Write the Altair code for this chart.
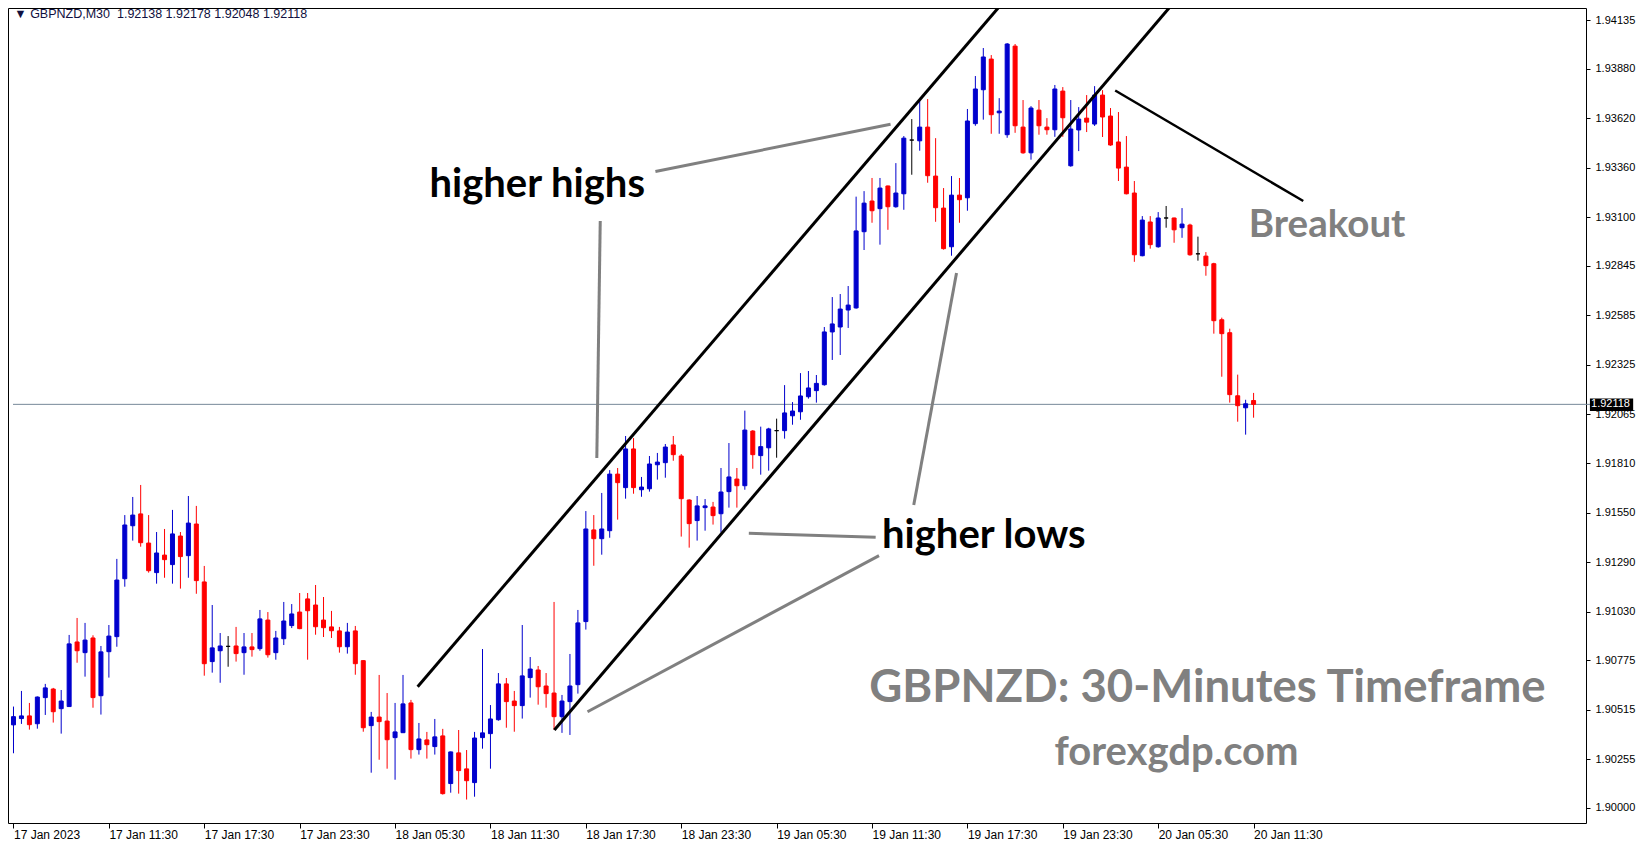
import json
import altair as alt
import pandas as pd

# ---------------- candle data (30-minute bars, 17 Jan 05:30 -> 20 Jan 11:30) -------------
opens = [1.90436, 1.90469, 1.90483, 1.90442, 1.90579, 1.90624, 1.90521, 1.90532, 1.90871, 1.90815,
         1.90892, 1.90589, 1.90820, 1.90899, 1.91203, 1.91481, 1.91543, 1.91390, 1.91235, 1.91327,
         1.91277, 1.91427, 1.91324, 1.91490, 1.91186, 1.90768, 1.90825, 1.90848, 1.90850, 1.90815,
         1.90845, 1.90836, 1.90986, 1.90815, 1.90888, 1.90957, 1.91028, 1.91097, 1.91065, 1.90986,
         1.90950, 1.90929, 1.90846, 1.90929, 1.90773, 1.90432, 1.90477, 1.90456, 1.90369, 1.90395,
         1.90551, 1.90306, 1.90357, 1.90322, 1.90378, 1.90128, 1.90289, 1.90205, 1.90133, 1.90369,
         1.90390, 1.90463, 1.90651, 1.90561, 1.90537, 1.90684, 1.90724, 1.90640, 1.90603, 1.90479,
         1.90558, 1.90647, 1.90978, 1.91459, 1.91413, 1.91455, 1.91752, 1.91681, 1.91884, 1.91670,
         1.91675, 1.91801, 1.91812, 1.91905, 1.91847, 1.91616, 1.91508, 1.91576, 1.91579, 1.91544,
         1.91660, 1.91726, 1.91691, 1.91978, 1.91849, 1.91890, 1.91980, 1.91980, 1.92058, 1.92079,
         1.92158, 1.92190, 1.92221, 1.92498, 1.92524, 1.92613, 1.92624, 1.93024, 1.93185, 1.93145,
         1.93264, 1.93155, 1.93223, 1.93505, 1.93501, 1.93573, 1.93316, 1.93148, 1.92945, 1.93216,
         1.93202, 1.93591, 1.93769, 1.93930, 1.93648, 1.93533, 1.93998, 1.93573, 1.93438, 1.93662,
         1.93573, 1.93559, 1.93762, 1.93370, 1.93558, 1.93620, 1.93589, 1.93741, 1.93631, 1.93495,
         1.93363, 1.93227, 1.92898, 1.93075, 1.92945, 1.93096, 1.93096, 1.93045, 1.93059, 1.92908,
         1.92896, 1.92856, 1.92562, 1.92494, 1.92163, 1.92100, 1.92138]
highs = [1.90532, 1.90614, 1.90551, 1.90585, 1.90651, 1.90630, 1.90619, 1.90908, 1.90997, 1.90971,
         1.90906, 1.90850, 1.90960, 1.91307, 1.91537, 1.91632, 1.91695, 1.91537, 1.91448, 1.91464,
         1.91564, 1.91448, 1.91637, 1.91585, 1.91270, 1.91065, 1.90918, 1.90902, 1.90950, 1.90918,
         1.90918, 1.91039, 1.91028, 1.90929, 1.91081, 1.91070, 1.91128, 1.91128, 1.91170, 1.91107,
         1.91034, 1.90950, 1.90971, 1.90955, 1.90775, 1.90504, 1.90698, 1.90603, 1.90551, 1.90698,
         1.90567, 1.90446, 1.90399, 1.90467, 1.90415, 1.90296, 1.90409, 1.90304, 1.90399, 1.90834,
         1.90540, 1.90708, 1.90682, 1.90614, 1.90960, 1.90792, 1.90745, 1.90708, 1.91081, 1.90593,
         1.90808, 1.91039, 1.91558, 1.91537, 1.91653, 1.91773, 1.91784, 1.91952, 1.91941, 1.91737,
         1.91847, 1.91863, 1.91910, 1.91952, 1.91857, 1.91620, 1.91637, 1.91621, 1.91606, 1.91784,
         1.91915, 1.91784, 1.92085, 1.91983, 1.92001, 1.91995, 1.92043, 1.92219, 1.92130, 1.92282,
         1.92293, 1.92272, 1.92524, 1.92681, 1.92697, 1.92739, 1.93208, 1.93237, 1.93306, 1.93306,
         1.93266, 1.93384, 1.93526, 1.93615, 1.93715, 1.93720, 1.93515, 1.93253, 1.93316, 1.93306,
         1.93668, 1.93841, 1.93988, 1.93951, 1.93725, 1.94014, 1.94009, 1.93715, 1.93683, 1.93715,
         1.93620, 1.93794, 1.93783, 1.93715, 1.93678, 1.93741, 1.93788, 1.93767, 1.93673, 1.93652,
         1.93526, 1.93290, 1.93106, 1.93106, 1.93127, 1.93159, 1.93098, 1.93148, 1.93066, 1.92998,
         1.92917, 1.92861, 1.92573, 1.92515, 1.92274, 1.92142, 1.92178]
lows = [1.90287, 1.90441, 1.90411, 1.90416, 1.90488, 1.90448, 1.90390, 1.90530, 1.90762, 1.90689,
        1.90526, 1.90490, 1.90684, 1.90846, 1.91161, 1.91403, 1.91371, 1.91235, 1.91177, 1.91208,
        1.91177, 1.91151, 1.91208, 1.91124, 1.90694, 1.90710, 1.90657, 1.90741, 1.90768, 1.90699,
        1.90794, 1.90825, 1.90789, 1.90778, 1.90855, 1.90944, 1.90938, 1.90778, 1.90909, 1.90897,
        1.90892, 1.90815, 1.90810, 1.90699, 1.90400, 1.90185, 1.90253, 1.90206, 1.90148, 1.90393,
        1.90259, 1.90280, 1.90259, 1.90280, 1.90070, 1.90080, 1.90075, 1.90044, 1.90059, 1.90311,
        1.90206, 1.90458, 1.90421, 1.90400, 1.90469, 1.90579, 1.90542, 1.90526, 1.90409, 1.90394,
        1.90383, 1.90600, 1.90936, 1.91271, 1.91329, 1.91418, 1.91513, 1.91623, 1.91649, 1.91633,
        1.91660, 1.91723, 1.91733, 1.91822, 1.91424, 1.91366, 1.91403, 1.91455, 1.91487, 1.91445,
        1.91576, 1.91576, 1.91670, 1.91780, 1.91749, 1.91770, 1.91838, 1.91938, 1.92011, 1.92037,
        1.92148, 1.92127, 1.92216, 1.92351, 1.92377, 1.92519, 1.92620, 1.92928, 1.93071, 1.92956,
        1.93034, 1.93150, 1.93139, 1.93323, 1.93449, 1.93281, 1.93076, 1.92930, 1.92898, 1.93071,
        1.93134, 1.93580, 1.93612, 1.93538, 1.93538, 1.93517, 1.93543, 1.93433, 1.93402, 1.93533,
        1.93533, 1.93522, 1.93522, 1.93365, 1.93447, 1.93547, 1.93579, 1.93521, 1.93475, 1.93290,
        1.93220, 1.92866, 1.92895, 1.92935, 1.92940, 1.93045, 1.92966, 1.92992, 1.92898, 1.92872,
        1.92793, 1.92489, 1.92263, 1.92127, 1.92027, 1.91959, 1.92048]
closes = [1.90479, 1.90483, 1.90437, 1.90582, 1.90630, 1.90505, 1.90561, 1.90861, 1.90825, 1.90881,
          1.90579, 1.90819, 1.90902, 1.91196, 1.91485, 1.91537, 1.91392, 1.91245, 1.91338, 1.91303,
          1.91438, 1.91319, 1.91495, 1.91193, 1.90757, 1.90840, 1.90850, 1.90848, 1.90810, 1.90845,
          1.90831, 1.90992, 1.90804, 1.90892, 1.90981, 1.91018, 1.90941, 1.91035, 1.90951, 1.90946,
          1.90930, 1.90846, 1.90923, 1.90757, 1.90421, 1.90477, 1.90453, 1.90358, 1.90399, 1.90546,
          1.90306, 1.90362, 1.90332, 1.90373, 1.90075, 1.90294, 1.90196, 1.90143, 1.90367, 1.90394,
          1.90467, 1.90651, 1.90558, 1.90537, 1.90693, 1.90729, 1.90636, 1.90600, 1.90479, 1.90561,
          1.90640, 1.90971, 1.91464, 1.91413, 1.91464, 1.91752, 1.91707, 1.91884, 1.91681, 1.91684,
          1.91805, 1.91815, 1.91894, 1.91854, 1.91623, 1.91492, 1.91585, 1.91585, 1.91534, 1.91658,
          1.91737, 1.91691, 1.91983, 1.91854, 1.91896, 1.91989, 1.91980, 1.92073, 1.92083, 1.92162,
          1.92204, 1.92228, 1.92498, 1.92540, 1.92618, 1.92639, 1.93028, 1.93174, 1.93134, 1.93253,
          1.93155, 1.93227, 1.93515, 1.93505, 1.93573, 1.93318, 1.93150, 1.92935, 1.93216, 1.93192,
          1.93605, 1.93773, 1.93941, 1.93638, 1.93657, 1.94009, 1.93580, 1.93438, 1.93673, 1.93580,
          1.93559, 1.93773, 1.93622, 1.93563, 1.93615, 1.93599, 1.93741, 1.93626, 1.93479, 1.93358,
          1.93223, 1.92903, 1.93085, 1.92956, 1.93096, 1.93096, 1.93034, 1.93064, 1.92903, 1.92908,
          1.92846, 1.92557, 1.92489, 1.92169, 1.92111, 1.92121, 1.92118]

# ---------------- axes ----------------
price_ticks = [1.90000, 1.90255, 1.90515, 1.90775, 1.91030, 1.91290, 1.91550, 1.91810, 1.92065,
               1.92325, 1.92585, 1.92845, 1.93100, 1.93360, 1.93620, 1.93880, 1.94135]
time_tick_index = list(range(0, 157, 12))
time_tick_labels = ["17 Jan 2023", "17 Jan 11:30", "17 Jan 17:30", "17 Jan 23:30", "18 Jan 05:30",
                    "18 Jan 11:30", "18 Jan 17:30", "18 Jan 23:30", "19 Jan 05:30", "19 Jan 11:30",
                    "19 Jan 17:30", "19 Jan 23:30", "20 Jan 05:30", "20 Jan 11:30"]
last_price = 1.92118
header_text = "\u25BC GBPNZD,M30\u00a0\u00a01.92138 1.92178 1.92048 1.92118"

# ---------------- annotations (bar index, price) ----------------
channel_x1 = [50.84, 68.04]
channel_p1 = [1.90636, 1.90409]
channel_x2 = [124.4, 145.9]
channel_p2 = [1.94224, 1.94224]

breakout_x1 = [138.59]
breakout_p1 = [1.93765]
breakout_x2 = [162.25]
breakout_p2 = [1.93185]

pointer_x1 = [80.75, 73.81, 113.25, 92.5, 108.88]
pointer_p1 = [1.93340, 1.93080, 1.91590, 1.91441, 1.91324]
pointer_x2 = [110.33, 73.38, 118.63, 108.46, 72.21]
pointer_p2 = [1.93588, 1.91836, 1.92807, 1.91420, 1.90505]

black_text = ["higher highs", "higher lows"]
black_text_x = [65.88, 122.06]
black_text_p = [1.93206, 1.91364]

X_DOMAIN = [-0.0625, 197.1875]
Y_DOMAIN = [1.89921, 1.94198]

df = pd.DataFrame({"i": range(len(opens)), "o": opens, "h": highs, "l": lows, "c": closes})
df["col"] = ["#0000CD" if c > o else ("#FF0000" if c < o else "#000000")
             for o, c in zip(df["o"], df["c"])]

xs = alt.Scale(domain=X_DOMAIN, nice=False, zero=False)
ys = alt.Scale(domain=Y_DOMAIN, nice=False, zero=False)

label_expr = json.dumps(time_tick_labels) + "[round(datum.value/12)]"

x_axis = alt.Axis(values=time_tick_index, labelExpr=label_expr, title=None, grid=False,
                  domain=False, tickSize=5, tickColor="black", labelAlign="left",
                  labelBaseline="top", labelPadding=1, labelFlush=False,
                  labelOverlap=False, labelFont="Liberation Sans", labelFontSize=12,
                  labelColor="black")
y_axis = alt.Axis(values=price_ticks, format=".5f", orient="right", title=None, grid=False,
                  domain=False, tickSize=4, tickColor="black", labelAlign="left",
                  labelBaseline="middle", labelPadding=5, labelFlush=False, labelOverlap=False,
                  labelFont="Liberation Sans", labelFontSize=11, labelColor="black")

base = alt.Chart(df)

wicks = base.mark_rule(strokeWidth=1).encode(
    x=alt.X("i:Q", scale=xs, axis=x_axis),
    y=alt.Y("l:Q", scale=ys, axis=y_axis),
    y2="h:Q",
    color=alt.Color("col:N", scale=None),
)
bodies = base.mark_bar(size=4, strokeWidth=1).encode(
    x=alt.X("i:Q", scale=xs),
    y=alt.Y("o:Q", scale=ys),
    y2="c:Q",
    fill=alt.Fill("col:N", scale=None),
    stroke=alt.Stroke("col:N", scale=None),
)

price_df = pd.DataFrame({"p": [last_price], "x0": [X_DOMAIN[0]], "x1": [198.31],
                         "bx0": [198.31], "bx1": [203.75], "by0": [1.92149], "by1": [1.92083],
                         "t": ["1.92118"], "tx": [198.45]})
price_line = alt.Chart(price_df).mark_rule(color="#778899", strokeWidth=1, clip=False).encode(
    x=alt.X("x0:Q", scale=xs), x2="x1:Q", y=alt.Y("p:Q", scale=ys))
price_box = alt.Chart(price_df).mark_rect(color="black", clip=False).encode(
    x=alt.X("bx0:Q", scale=xs), x2="bx1:Q", y=alt.Y("by0:Q", scale=ys), y2="by1:Q")
price_txt = alt.Chart(price_df).mark_text(color="white", align="left", baseline="middle",
                                          font="Liberation Sans", fontSize=11, clip=False).encode(
    x=alt.X("tx:Q", scale=xs), y=alt.Y("p:Q", scale=ys), text="t:N")

ch_df = pd.DataFrame({"x1": channel_x1, "p1": channel_p1, "x2": channel_x2, "p2": channel_p2})
channel = alt.Chart(ch_df).mark_rule(color="black", strokeWidth=3, clip=True).encode(
    x=alt.X("x1:Q", scale=xs), y=alt.Y("p1:Q", scale=ys), x2="x2:Q", y2="p2:Q")

bo_df = pd.DataFrame({"x1": breakout_x1, "p1": breakout_p1, "x2": breakout_x2, "p2": breakout_p2})
breakout = alt.Chart(bo_df).mark_rule(color="black", strokeWidth=2.5, clip=True).encode(
    x=alt.X("x1:Q", scale=xs), y=alt.Y("p1:Q", scale=ys), x2="x2:Q", y2="p2:Q")

pt_df = pd.DataFrame({"x1": pointer_x1, "p1": pointer_p1, "x2": pointer_x2, "p2": pointer_p2})
pointers = alt.Chart(pt_df).mark_rule(color="#808080", strokeWidth=3, clip=True).encode(
    x=alt.X("x1:Q", scale=xs), y=alt.Y("p1:Q", scale=ys), x2="x2:Q", y2="p2:Q")

bt_df = pd.DataFrame({"t": black_text, "x": black_text_x, "p": black_text_p})
black_labels = alt.Chart(bt_df).mark_text(font="Lato", fontWeight="bold", fontSize=40,
                                          color="black", align="center",
                                          baseline="alphabetic").encode(
    x=alt.X("x:Q", scale=xs), y=alt.Y("p:Q", scale=ys), text="t:N")

def gray_text(txt, x, p, size):
    d = pd.DataFrame({"t": [txt], "x": [x], "p": [p]})
    return alt.Chart(d).mark_text(font="Lato", fontWeight="bold", fontSize=size,
                                  color="#808080", align="center",
                                  baseline="alphabetic").encode(
        x=alt.X("x:Q", scale=xs), y=alt.Y("p:Q", scale=ys), text="t:N")

breakout_txt = gray_text("Breakout", 165.25, 1.92996, 38.5)
tf_txt = gray_text("GBPNZD: 30-Minutes Timeframe", 150.2, 1.90554, 45.5)
site_txt = gray_text("forexgdp.com", 146.3, 1.90227, 40)

hd_df = pd.DataFrame({"t": [header_text], "x": [0.1], "p": [1.94166]})
header = alt.Chart(hd_df).mark_text(font="Liberation Sans", fontSize=12.5, color="#101040",
                                    align="left", baseline="middle").encode(
    x=alt.X("x:Q", scale=xs), y=alt.Y("p:Q", scale=ys), text="t:N")

chart = alt.layer(
    price_line, wicks, bodies, channel, breakout, pointers,
    black_labels, breakout_txt, tf_txt, site_txt, header, price_box, price_txt,
).properties(
    width=1578, height=815,
    autosize=alt.AutoSizeParams(type="none"),
    padding={"left": 0, "top": 0, "right": 55, "bottom": 18},
    background="white",
).configure_view(stroke="black", strokeWidth=1)

chart.save("out.html", embed_options={"renderer": "svg", "actions": False})
